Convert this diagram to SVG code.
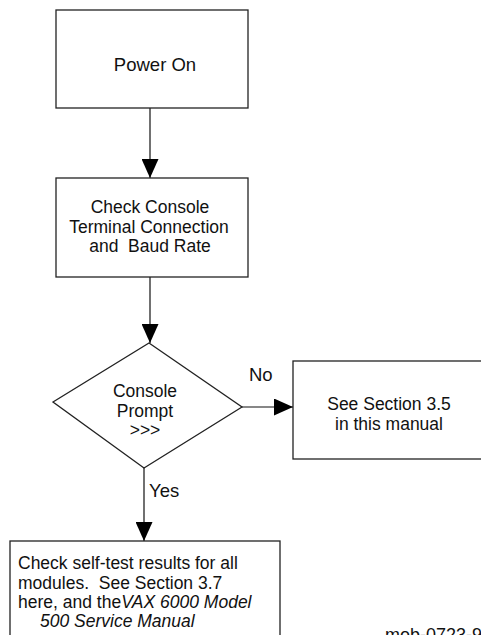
<svg xmlns="http://www.w3.org/2000/svg" width="481" height="635" viewBox="0 0 481 635">
<defs>
<style>
.box{fill:#fff;stroke:#222;stroke-width:1.3}
.ln{fill:none;stroke:#111;stroke-width:1.2}
.t{font-family:"Liberation Sans",Arial,sans-serif;font-size:18.5px;fill:#111}
.s{font-size:17.5px}
.m{text-anchor:middle}
.i{font-style:italic}
</style>
<marker id="ah" markerUnits="userSpaceOnUse" markerWidth="20" markerHeight="17" refX="19" refY="8.5" orient="auto" viewBox="0 0 20 17">
<path d="M0,0 L19,8.5 L0,17 z" fill="#000"/>
</marker>
</defs>
<rect width="481" height="635" fill="#fff"/>
<g id="connectors">
<line class="ln" x1="150" y1="108" x2="150" y2="178" marker-end="url(#ah)"/>
<line class="ln" x1="150" y1="277" x2="150" y2="343" marker-end="url(#ah)"/>
<line class="ln" x1="242" y1="407" x2="293" y2="407" marker-end="url(#ah)"/>
<line class="ln" x1="144" y1="468" x2="144" y2="541" marker-end="url(#ah)"/>
<text class="t" x="249" y="381">No</text>
<text class="t" x="149" y="497">Yes</text>
</g>
<g id="power-on">
<rect class="box" x="56" y="10" width="192" height="98"/>
<text class="t m" x="155" y="71">Power On</text>
</g>
<g id="check-console">
<rect class="box" x="56" y="178" width="192" height="99"/>
<text class="t s m" x="150" y="213">Check Console</text>
<text class="t s m" x="149" y="232.5">Terminal Connection</text>
<text class="t s m" x="150" y="252" xml:space="preserve">and  Baud Rate</text>
</g>
<g id="console-prompt">
<polygon class="box" points="149,343 242,407 144,468 53,402"/>
<text class="t s m" x="145" y="397">Console</text>
<text class="t s m" x="145" y="416.5">Prompt</text>
<text class="t s m" x="145" y="435.5">&gt;&gt;&gt;</text>
</g>
<g id="see-section">
<rect class="box" x="293" y="361" width="200" height="98"/>
<text class="t s m" x="389" y="410">See Section 3.5</text>
<text class="t s m" x="389" y="429.5">in this manual</text>
</g>
<g id="self-test">
<rect class="box" x="10" y="541" width="270" height="120"/>
<text class="t s" x="18" y="569">Check self-test results for all</text>
<text class="t s" x="18" y="589" xml:space="preserve">modules.  See Section 3.7</text>
<text class="t s" x="18" y="608">here, and the<tspan class="i">VAX 6000 Model</tspan></text>
<text class="t s i" x="40" y="627">500 Service Manual</text>
</g>
<text class="t" x="385" y="641" style="font-size:18px">mob-0723-9</text>
</svg>
